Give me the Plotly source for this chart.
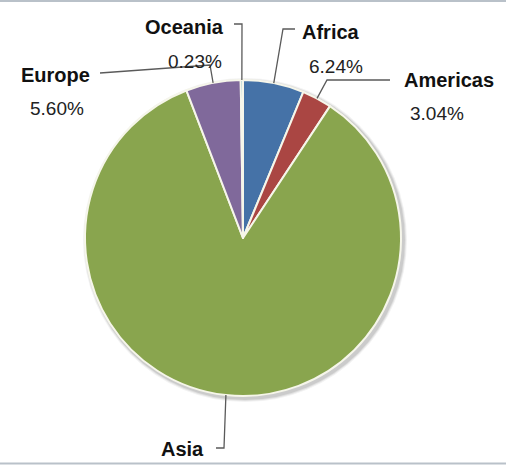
import math
import plotly.graph_objects as go

# Regional shares (percent)
regions = ["Africa", "Americas", "Asia", "Europe", "Oceania"]
shares = [6.24, 3.04, 84.89, 5.60, 0.23]
colors = ["#4572A7", "#AA4643", "#89A54E", "#80699B", "#3D96AE"]
show_pct = [True, True, False, True, True]

W, H = 506, 465
CX, CY, R = 243, 238, 158  # pie centre and radius in pixels


def px(x):
    return x / W


def py(y):
    return 1 - y / H


fig = go.Figure(
    go.Pie(
        labels=regions,
        values=shares,
        sort=False,
        direction="clockwise",
        rotation=0,
        marker=dict(colors=colors, line=dict(color="#f6f6ea", width=2)),
        textinfo="none",
        hoverinfo="label+percent",
        showlegend=False,
        domain=dict(x=[px(CX - R), px(CX + R)], y=[py(CY + R), py(CY - R)]),
    )
)

# Mid-angle of each slice, used to anchor the leader lines on the rim
total = sum(shares)
mid_angles = []
acc = 0.0
for v in shares:
    mid_angles.append((acc + v / 2) / total * 2 * math.pi)
    acc += v


def rim(i):
    a = mid_angles[i]
    return CX + R * math.sin(a), CY - R * math.cos(a)


# label placement: (name centre, pct centre, elbow, line end)
layout_info = {
    "Africa": ((331, 32), (336, 66), (283, 29), (295, 29)),
    "Americas": ((449, 80), (437, 113), (327, 80), (390, 80)),
    "Asia": ((182, 449), None, (224, 448), (216, 448)),
    "Europe": ((55, 75), (57, 108), (210, 65), (100, 73)),
    "Oceania": ((184, 27), (195, 62), (242, 24), (234, 24)),
}

shapes = []
# soft drop shadow under the pie
for grow, alpha in [(4, 0.05), (3, 0.07), (2, 0.09)]:
    shapes.append(dict(type="circle", xref="paper", yref="paper", layer="below",
                       x0=px(CX - R - grow + 2), x1=px(CX + R + grow + 2),
                       y0=py(CY + R + grow + 2), y1=py(CY - R - grow + 2),
                       fillcolor=f"rgba(0,0,0,{alpha})", line=dict(width=0)))

annotations = []
for i, name in enumerate(regions):
    name_pos, pct_pos, elbow, end = layout_info[name]
    x0, y0 = rim(i)
    path = f"M {px(x0)} {py(y0)} L {px(elbow[0])} {py(elbow[1])} L {px(end[0])} {py(end[1])}"
    shapes.append(dict(type="path", xref="paper", yref="paper", path=path,
                       line=dict(color="#5a5a5a", width=1.3)))
    annotations.append(dict(x=px(name_pos[0]), y=py(name_pos[1]), xref="paper", yref="paper",
                            text=f"<b>{name}</b>", showarrow=False,
                            xanchor="center", yanchor="middle",
                            font=dict(family="Liberation Sans, Arial", size=20, color="#111111")))
    if show_pct[i] and pct_pos:
        annotations.append(dict(x=px(pct_pos[0]), y=py(pct_pos[1]), xref="paper", yref="paper",
                                text=f"{shares[i]:.2f}%", showarrow=False,
                                xanchor="center", yanchor="middle",
                                font=dict(family="Liberation Sans, Arial", size=19, color="#222222")))

# thin frame lines at top and bottom
shapes.append(dict(type="line", xref="paper", yref="paper", x0=0, x1=1, y0=py(1), y1=py(1),
                   line=dict(color="#b9c1c9", width=2)))
shapes.append(dict(type="line", xref="paper", yref="paper", x0=0, x1=1, y0=py(463.5), y1=py(463.5),
                   line=dict(color="#b9c1c9", width=2)))

fig.update_layout(
    width=W,
    height=H,
    margin=dict(l=0, r=0, t=0, b=0),
    paper_bgcolor="white",
    plot_bgcolor="white",
    shapes=shapes,
    annotations=annotations,
)

fig.write_html("out.html")
